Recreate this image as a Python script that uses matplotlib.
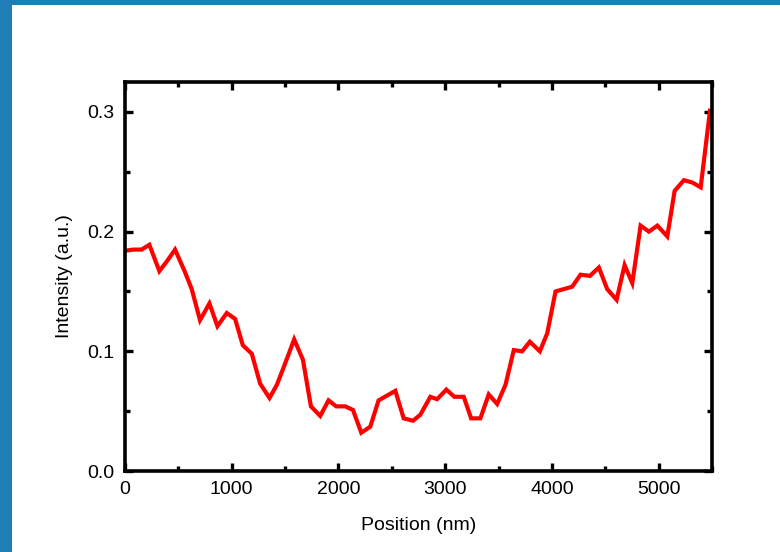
import matplotlib
matplotlib.use("Agg")
import matplotlib.pyplot as plt
from matplotlib.patches import Rectangle
from matplotlib.ticker import MultipleLocator

# Intensity profile along the scan line
position_nm = [0, 78, 156, 228, 322, 391, 469, 563, 625, 703, 791, 866, 954,
               1032, 1104, 1188, 1266, 1354, 1423, 1501, 1585, 1667, 1742,
               1829, 1907, 1979, 2064, 2136, 2214, 2298, 2376, 2455, 2533,
               2611, 2699, 2767, 2861, 2924, 3011, 3086, 3174, 3243, 3330,
               3408, 3487, 3565, 3643, 3721, 3793, 3887, 3956, 4034, 4112,
               4190, 4268, 4356, 4440, 4518, 4606, 4681, 4753, 4831, 4909,
               4988, 5081, 5150, 5237, 5316, 5394, 5481]
intensity = [0.184, 0.185, 0.185, 0.189, 0.167, 0.175, 0.185, 0.166, 0.152,
             0.126, 0.140, 0.121, 0.132, 0.127, 0.105, 0.098, 0.073, 0.061,
             0.072, 0.090, 0.110, 0.093, 0.054, 0.046, 0.059, 0.054, 0.054,
             0.051, 0.032, 0.037, 0.059, 0.063, 0.067, 0.044, 0.042, 0.047,
             0.062, 0.060, 0.068, 0.062, 0.062, 0.044, 0.044, 0.064, 0.056,
             0.072, 0.101, 0.100, 0.108, 0.100, 0.115, 0.150, 0.152, 0.154,
             0.164, 0.163, 0.170, 0.152, 0.143, 0.172, 0.157, 0.205, 0.200,
             0.205, 0.196, 0.234, 0.243, 0.241, 0.237, 0.301]

x_ticks = [0, 1000, 2000, 3000, 4000, 5000]
y_ticks = [0.0, 0.1, 0.2, 0.3]

plt.rcParams["font.family"] = ["Liberation Sans", "DejaVu Sans"]

fig = plt.figure(figsize=(7.8, 5.52), dpi=100)
fig.patch.set_facecolor("white")

# frame strips along the top and left edges
frame_color = "#1F7EB6"
fig.add_artist(Rectangle((0, 1 - 5 / 552), 1, 5 / 552, transform=fig.transFigure,
                         facecolor=frame_color, edgecolor="none"))
fig.add_artist(Rectangle((0, 0), 12.5 / 780, 1, transform=fig.transFigure,
                         facecolor=frame_color, edgecolor="none"))

ax = fig.add_axes([125 / 780, 1 - 471 / 552, 587 / 780, 389 / 552])
ax.plot(position_nm, intensity, color="#FF0000", lw=3.0, solid_joinstyle="miter")

ax.set_xlim(0, 5500)
ax.set_ylim(0, 0.325)
ax.set_xticks(x_ticks)
ax.set_xticklabels([str(v) for v in x_ticks])
ax.set_yticks(y_ticks)
ax.set_yticklabels([f"{v:.1f}" for v in y_ticks])
ax.xaxis.set_minor_locator(MultipleLocator(500))
ax.yaxis.set_minor_locator(MultipleLocator(0.05))

for side in ax.spines.values():
    side.set_linewidth(2.6)
    side.set_color("black")

ax.tick_params(which="both", direction="in", top=True, right=True,
               width=2.4, color="black", labelsize=14, labelcolor="black")
ax.tick_params(which="major", length=6)
ax.tick_params(which="minor", length=3.5)
ax.tick_params(axis="x", which="major", pad=7)
ax.tick_params(axis="y", which="major", pad=8)

ax.set_xlabel("Position (nm)", fontsize=14, labelpad=14)
ax.set_ylabel("Intensity (a.u.)", fontsize=14, labelpad=10)

fig.savefig("out.png", dpi=100, facecolor="white")
